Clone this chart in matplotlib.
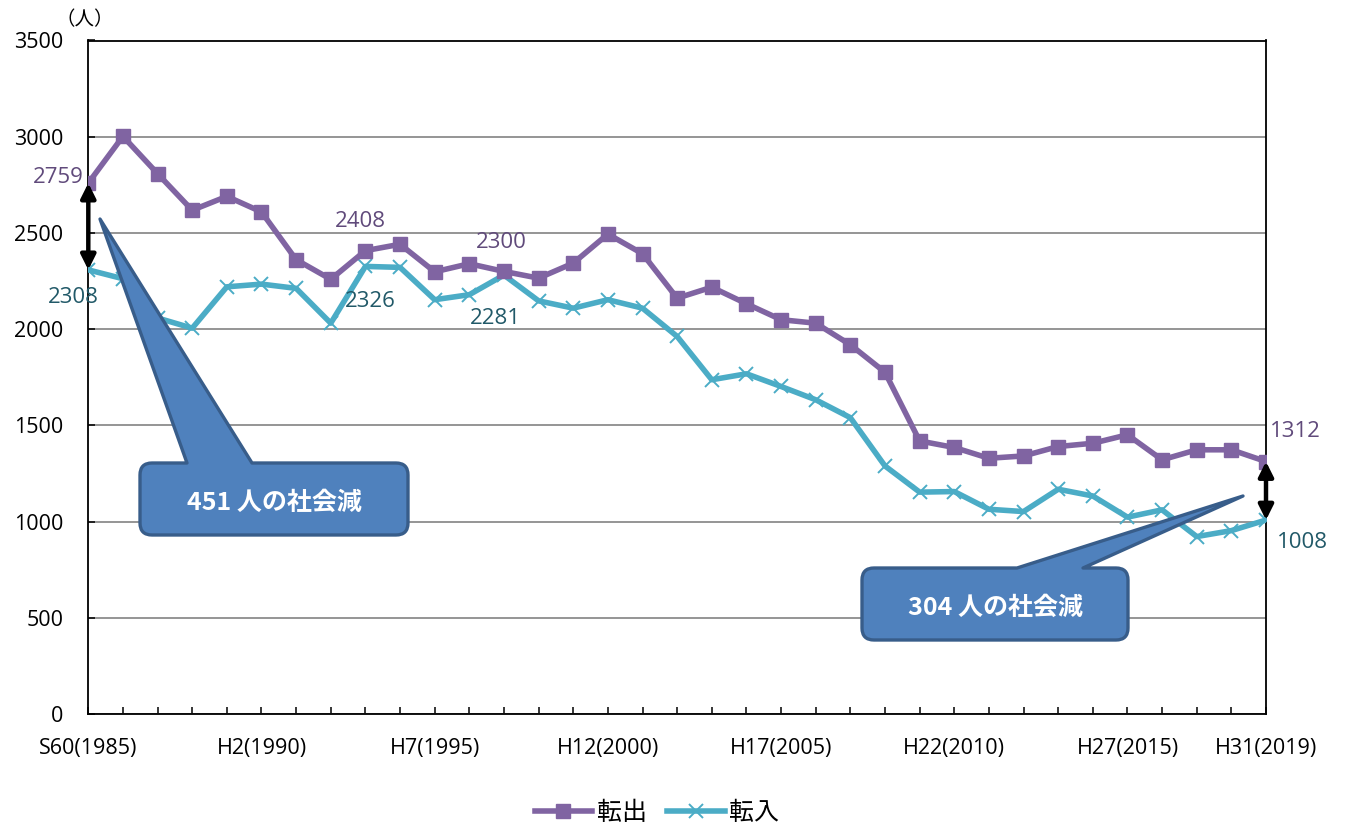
import numpy as np
import matplotlib
matplotlib.use("Agg")
import matplotlib.pyplot as plt
from matplotlib.path import Path
from matplotlib.patches import PathPatch

plt.rcParams["font.family"] = ["Open Sans", "Noto Sans CJK JP", "DejaVu Sans"]

# --- data -----------------------------------------------------------------
years = list(range(1985, 2020))
tenshutsu = [2759, 3002, 2808, 2618, 2690, 2609, 2361, 2259, 2408, 2441,
             2298, 2340, 2300, 2265, 2343, 2494, 2392, 2161, 2218, 2132,
             2049, 2031, 1919, 1776, 1419, 1385, 1329, 1341, 1390, 1407,
             1451, 1321, 1373, 1373, 1312]
tennyu = [2308, 2262, 2058, 2005, 2220, 2234, 2212, 2031, 2326, 2321,
          2153, 2179, 2281, 2147, 2109, 2153, 2109, 1962, 1737, 1768,
          1702, 1633, 1540, 1289, 1153, 1156, 1064, 1052, 1168, 1133,
          1023, 1061, 922, 953, 1008]
tick_years = [1985, 1990, 1995, 2000, 2005, 2010, 2015, 2019]
tick_labels = ["S60(1985)", "H2(1990)", "H7(1995)", "H12(2000)",
               "H17(2005)", "H22(2010)", "H27(2015)", "H31(2019)"]
series_names = ["転出", "転入"]
callout_texts = ["451 人の社会減", "304 人の社会減"]

C_OUT = "#8064A2"
C_IN = "#4BACC6"
C_OUT_TXT = "#604A7B"
C_IN_TXT = "#215968"
C_BOX = "#4F81BD"
C_BOX_EDGE = "#385D8A"

W, H = 1346, 826
fig = plt.figure(figsize=(W / 100, H / 100), dpi=100)
ax = fig.add_axes([88.3 / W, 1 - 714 / H, (1266 - 88.3) / W, (714 - 40.5) / H])

ax.plot(years, tenshutsu, color=C_OUT, lw=4.0, marker="s", ms=10,
        mfc=C_OUT, mec=C_OUT, label=series_names[0], zorder=4)
ax.plot(years, tennyu, color=C_IN, lw=4.0, marker="x", ms=10,
        mew=1.4, mec=C_IN, label=series_names[1], zorder=3)

ax.set_xlim(1985, 2019)
ax.set_ylim(0, 3500)
ax.set_yticks(np.arange(0, 3501, 500))
ax.set_xticks(tick_years)
ax.set_xticklabels(tick_labels)
ax.set_xticks(years, minor=True)
ax.tick_params(axis="x", which="both", direction="in", length=5, width=1.1)
ax.tick_params(axis="x", which="major", pad=17, labelsize=15.5)
ax.tick_params(axis="y", direction="in", length=5, width=1.1, pad=18, labelsize=15.5)
ax.grid(axis="y", color="#8c8c8c", lw=1.3)
ax.set_axisbelow(True)
for s in ax.spines.values():
    s.set_color("black")
    s.set_linewidth(1.3)

fig.text(85 / W, 1 - 20 / H, "（人）", ha="center", va="center", fontsize=14,
         family=["Noto Sans CJK JP"])

# data labels
lab = [
    (0, tenshutsu, C_OUT_TXT, (-30, 6)),
    (0, tennyu, C_IN_TXT, (-15, -28)),
    (8, tenshutsu, C_OUT_TXT, (-5, 29)),
    (8, tennyu, C_IN_TXT, (5, -35)),
    (12, tenshutsu, C_OUT_TXT, (-3, 29)),
    (12, tennyu, C_IN_TXT, (-9, -43)),
    (34, tenshutsu, C_OUT_TXT, (29, 30)),
    (34, tennyu, C_IN_TXT, (36, -22)),
]
for i, ser, col, off in lab:
    ax.annotate(str(ser[i]), (years[i], ser[i]), xytext=off, textcoords="offset pixels",
                ha="center", va="center", fontsize=16, color=col, zorder=6)

# double arrows
for i in (0, 34):
    ax.annotate("", xy=(years[i], tennyu[i]), xytext=(years[i], tenshutsu[i]),
                arrowprops=dict(arrowstyle="<|-|>", color="black", lw=3.2,
                                mutation_scale=22, shrinkA=0, shrinkB=0), zorder=7)


def callout(x0, y0, x1, y1, bl, br, tip, text, r=12):
    pts = [(x0 + r, y0), (bl, y0), tip, (br, y0), (x1 - r, y0),
           (x1, y0), (x1, y0 + r), (x1, y1 - r), (x1, y1), (x1 - r, y1),
           (x0 + r, y1), (x0, y1), (x0, y1 - r), (x0, y0 + r), (x0, y0), (x0 + r, y0),
           (x0 + r, y0)]
    codes = [Path.MOVETO, Path.LINETO, Path.LINETO, Path.LINETO, Path.LINETO,
             Path.CURVE3, Path.CURVE3, Path.LINETO, Path.CURVE3, Path.CURVE3,
             Path.LINETO, Path.CURVE3, Path.CURVE3, Path.LINETO, Path.CURVE3, Path.CURVE3,
             Path.CLOSEPOLY]
    verts = [(x / W, 1 - y / H) for x, y in pts]
    patch = PathPatch(Path(verts, codes), facecolor=C_BOX, edgecolor=C_BOX_EDGE,
                      lw=2.4, transform=fig.transFigure, zorder=8, joinstyle="round")
    fig.add_artist(patch)
    fig.text((x0 + x1) / 2 / W, 1 - ((y0 + y1) / 2 + 4) / H, text, ha="center", va="center",
             color="white", fontsize=18, fontweight="bold",
             family=["Noto Sans CJK JP"], zorder=9)


callout(140, 463, 408, 535, 187, 252, (100, 219), callout_texts[0])
callout(862, 568, 1128, 640, 1017, 1083, (1243, 496), callout_texts[1])

fig.legend(loc="center", bbox_to_anchor=(657 / W, 1 - 813 / H), ncol=2, frameon=False,
           prop={"family": "Noto Sans CJK JP", "size": 18}, handlelength=2.3,
           handletextpad=0.2, columnspacing=0.8)

fig.savefig("out.png", dpi=100, facecolor="white")
